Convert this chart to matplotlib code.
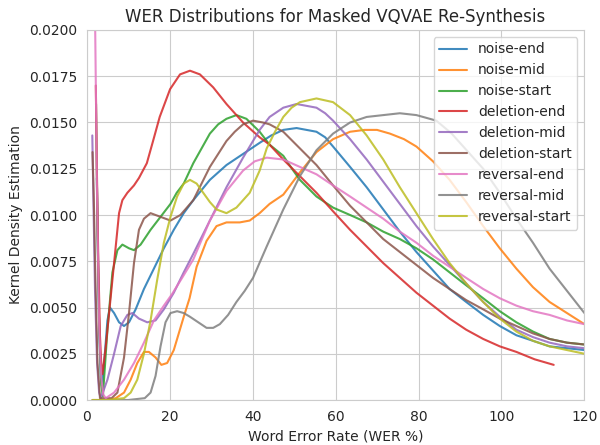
import matplotlib
matplotlib.use("Agg")
import matplotlib.pyplot as plt
import seaborn as sns

sns.set_style("whitegrid")

labels = ['noise-end', 'noise-mid', 'noise-start',
          'deletion-end', 'deletion-mid', 'deletion-start',
          'reversal-end', 'reversal-mid', 'reversal-start']

# kde curves (x = WER %, y = density)
noise_end_x = [2.45, 2.75, 3.0, 3.4, 3.7, 4.2, 5.0, 5.6, 6.6, 7.8, 9.0, 10.2, 11.8, 13.8, 16.2, 18.6, 21.0,
               23.4, 25.7, 29.7, 33.7, 37.7, 41.7, 44.5, 47.4, 50.6, 53.0, 55.4, 57.5, 59.4, 63.5, 67.5,
               71.5, 75.5, 79.5, 83.5, 87.5, 91.5, 95.6, 99.6, 103.6, 107.6, 111.6, 115.8, 120]
noise_end_y = [0.012, 0.0075, 0.004, 0.0012, 0.0008, 0.002, 0.0043, 0.005, 0.0047, 0.0042, 0.004, 0.0042,
               0.0049, 0.006, 0.0071, 0.0082, 0.0092, 0.0101, 0.0108, 0.0119, 0.0127, 0.0133, 0.0139,
               0.0143, 0.0146, 0.0147, 0.0146, 0.0145, 0.0142, 0.0137, 0.0126, 0.0115, 0.0103, 0.0091,
               0.008, 0.007, 0.006, 0.0053, 0.0046, 0.004, 0.0035, 0.0032, 0.0029, 0.0028, 0.0027]

noise_mid_x = [1.4, 3.0, 5.0, 7.0, 9.0, 10.6, 12.2, 13.8, 15.0, 16.6, 18.0, 19.4, 21.0, 23.4, 24.8, 26.5,
               28.9, 31.3, 33.7, 36.9, 39.3, 41.7, 44.1, 47.4, 51.4, 55.4, 59.4, 63.5, 67.0, 70.0, 73.1,
               76.5, 79.5, 83.5, 87.5, 91.5, 95.6, 99.6, 103.6, 107.6, 111.6, 115.8, 120]
noise_mid_y = [0.0, 0.0, 0.0, 0.0001, 0.0004, 0.0011, 0.002, 0.0026, 0.0026, 0.0023, 0.0019, 0.002,
               0.0027, 0.0045, 0.0055, 0.0072, 0.0086, 0.0094, 0.0096, 0.0096, 0.0097, 0.0101, 0.0106,
               0.0111, 0.0123, 0.0134, 0.0141, 0.0145, 0.0146, 0.0146, 0.0144, 0.0141, 0.0137, 0.0129,
               0.0119, 0.0107, 0.0094, 0.0082, 0.0071, 0.0061, 0.0053, 0.0047, 0.0041]

noise_start_x = [2.25, 2.6, 3.0, 3.5, 3.9, 5.0, 6.2, 7.4, 8.6, 10.2, 11.4, 13.0, 15.4, 17.8, 20.2, 21.7, 23.4,
                 25.7, 27.7, 29.7, 31.7, 33.7, 36.1, 38.5, 41.7, 44.1, 47.4, 49.5, 51.4, 55.4, 59.4, 63.5,
                 67.5, 71.5, 75.5, 79.5, 83.5, 87.5, 91.5, 95.6, 99.6, 103.6, 107.6, 111.6, 115.8, 120]
noise_start_y = [0.016, 0.009, 0.004, 0.0008, 0.0002, 0.0038, 0.0069, 0.0081, 0.0084, 0.0082, 0.0081,
                 0.0084, 0.0092, 0.0099, 0.0106, 0.0112, 0.0117, 0.0128, 0.0136, 0.0144, 0.0149, 0.0152,
                 0.0154, 0.0152, 0.0145, 0.0138, 0.0132, 0.0125, 0.0119, 0.011, 0.0104, 0.01, 0.0096,
                 0.0091, 0.0087, 0.0082, 0.0076, 0.0069, 0.0062, 0.0055, 0.0048, 0.0042, 0.0037, 0.0033,
                 0.0031, 0.003]

deletion_end_x = [2.2, 2.45, 2.8, 3.2, 3.5, 3.8, 4.6, 5.8, 7.0, 7.8, 8.6, 9.8, 11.4, 12.6, 14.5, 16.0,
                  17.6, 20.1, 22.5, 24.9, 27.3, 30.5, 33.7, 37.7, 41.7, 44.1, 47.4, 51.4, 55.4, 59.4, 63.5,
                  67.5, 71.5, 75.5, 79.5, 83.5, 87.5, 91.5, 95.6, 99.6, 103.6, 108.0, 112.6]
deletion_end_y = [0.017, 0.0125, 0.0075, 0.0035, 0.002, 0.0014, 0.0029, 0.0056, 0.0083, 0.0101, 0.0108,
                  0.0112, 0.0116, 0.012, 0.0128, 0.014, 0.0153, 0.0168, 0.0176, 0.0178, 0.0176, 0.0169,
                  0.016, 0.015, 0.0142, 0.0138, 0.013, 0.0121, 0.0112, 0.0102, 0.0092, 0.0083, 0.0074,
                  0.0066, 0.0058, 0.0051, 0.0044, 0.0038, 0.0033, 0.0029, 0.0026, 0.0022, 0.0019]

deletion_mid_x = [1.35, 1.6, 2.0, 2.5, 3.0, 3.4, 5.0, 6.6, 8.2, 9.8, 11.0, 12.6, 14.6, 16.6, 18.6, 21.0,
                  23.4, 25.7, 29.7, 33.7, 37.7, 41.7, 44.1, 47.4, 50.6, 53.0, 55.4, 57.5, 59.4, 63.5, 67.5,
                  71.5, 75.5, 79.5, 83.5, 87.5, 91.5, 95.6, 99.6, 103.6, 107.6, 111.6, 115.8, 120]
deletion_mid_y = [0.0143, 0.011, 0.006, 0.002, 0.0004, 0.0001, 0.0011, 0.0025, 0.004, 0.0046, 0.0047,
                  0.0044, 0.0042, 0.0043, 0.0049, 0.0058, 0.0069, 0.0079, 0.0097, 0.0115, 0.0131, 0.0146,
                  0.0153, 0.0158, 0.016, 0.0159, 0.0158, 0.0155, 0.0151, 0.0141, 0.013, 0.0118, 0.0106,
                  0.0094, 0.0083, 0.0073, 0.0063, 0.0053, 0.0045, 0.0038, 0.0034, 0.0031, 0.0029, 0.0028]

deletion_start_x = [1.4, 1.7, 2.1, 2.6, 3.2, 4.5, 6.0, 7.4, 9.0, 10.2, 11.4, 12.6, 13.8, 15.4, 17.8, 20.2,
                    22.6, 25.7, 27.7, 29.7, 31.7, 33.7, 35.7, 37.7, 40.1, 42.5, 44.1, 47.4, 51.4, 55.4,
                    59.4, 63.5, 67.5, 71.5, 75.5, 79.5, 83.5, 87.5, 91.5, 95.6, 99.6, 103.6, 107.6, 111.6,
                    115.8, 120]
deletion_start_y = [0.0134, 0.011, 0.0065, 0.002, 0.0001, 0.0001, 0.0001, 0.0004, 0.0023, 0.0047, 0.0074,
                    0.0092, 0.0098, 0.0101, 0.0099, 0.0097, 0.01, 0.0108, 0.0117, 0.0126, 0.0133, 0.014,
                    0.0145, 0.0149, 0.0151, 0.015, 0.0149, 0.0145, 0.0136, 0.0127, 0.0116, 0.0105, 0.0096,
                    0.0087, 0.008, 0.0073, 0.0066, 0.006, 0.0054, 0.0049, 0.0044, 0.004, 0.0036, 0.0033,
                    0.0031, 0.003]

reversal_end_x = [1.6, 2.0, 2.5, 3.0, 3.5, 4.0, 4.6, 6.6, 9.0, 11.4, 13.8, 16.2, 18.6, 20.5, 23.0, 25.7,
                  29.7, 33.7, 37.7, 40.5, 43.4, 47.4, 51.4, 55.4, 59.4, 63.5, 67.5, 71.5, 75.5, 79.5, 83.5,
                  87.5, 91.5, 95.6, 99.6, 103.6, 107.6, 111.6, 115.8, 120]
reversal_end_y = [0.03, 0.021, 0.011, 0.004, 0.0012, 0.0003, 0.0001, 0.0004, 0.0011, 0.002, 0.0031, 0.0043,
                  0.0051, 0.0057, 0.0066, 0.0076, 0.0097, 0.0113, 0.0124, 0.0129, 0.0131, 0.013, 0.0126,
                  0.0122, 0.0116, 0.011, 0.0104, 0.0098, 0.0091, 0.0085, 0.0078, 0.0072, 0.0066, 0.006,
                  0.0055, 0.0051, 0.0048, 0.0046, 0.0043, 0.0041]

reversal_mid_x = [1.4, 5.0, 10.0, 14.0, 15.4, 16.6, 17.8, 19.0, 20.2, 21.8, 23.4, 24.9, 26.9, 28.9, 30.5,
                  32.1, 34.1, 36.1, 38.1, 40.1, 43.4, 47.4, 51.4, 55.4, 59.4, 63.5, 67.5, 71.5, 75.5, 79.5,
                  84.3, 88.0, 91.6, 95.6, 99.6, 103.6, 107.6, 111.6, 115.8, 120]
reversal_mid_y = [0.0, 0.0, 0.0, 0.0001, 0.0004, 0.0013, 0.0029, 0.0042, 0.0047, 0.0048, 0.0047, 0.0045,
                  0.0042, 0.0039, 0.0039, 0.0041, 0.0046, 0.0053, 0.0059, 0.0066, 0.0083, 0.0103, 0.0121,
                  0.0135, 0.0144, 0.015, 0.0153, 0.0154, 0.0155, 0.0154, 0.0151, 0.0144, 0.0135, 0.0125,
                  0.0112, 0.0098, 0.0085, 0.0071, 0.0059, 0.0047]

reversal_start_x = [1.4, 5.0, 9.0, 10.6, 12.2, 13.8, 15.4, 17.0, 18.6, 20.2, 21.8, 23.4, 24.9, 26.5, 28.1,
                    29.7, 31.3, 33.7, 36.1, 39.3, 41.7, 43.4, 45.4, 47.4, 49.4, 51.4, 55.4, 59.4, 63.5,
                    67.5, 71.5, 75.5, 79.5, 83.5, 87.5, 91.5, 95.6, 99.6, 103.6, 107.6, 111.6, 115.8, 120]
reversal_start_y = [0.0, 0.0, 0.0001, 0.0004, 0.0011, 0.0025, 0.0043, 0.0065, 0.0085, 0.0099, 0.011,
                    0.0117, 0.0119, 0.0117, 0.0112, 0.0107, 0.0103, 0.0101, 0.0104, 0.0112, 0.0124, 0.0136,
                    0.0145, 0.0153, 0.0158, 0.0161, 0.0163, 0.0161, 0.0154, 0.0143, 0.013, 0.0115, 0.0101,
                    0.0087, 0.0074, 0.0063, 0.0053, 0.0044, 0.0037, 0.0032, 0.0029, 0.0027, 0.0025]

curves = [(noise_end_x, noise_end_y), (noise_mid_x, noise_mid_y), (noise_start_x, noise_start_y),
          (deletion_end_x, deletion_end_y), (deletion_mid_x, deletion_mid_y),
          (deletion_start_x, deletion_start_y), (reversal_end_x, reversal_end_y),
          (reversal_mid_x, reversal_mid_y), (reversal_start_x, reversal_start_y)]

colors = plt.get_cmap('tab10').colors

fig = plt.figure(figsize=(6, 4.45), dpi=100)
ax = fig.add_axes([0.1445, 0.1011, 0.8295, 0.8315])

for i, (xs, ys) in enumerate(curves):
    ax.plot(xs, ys, color=colors[i], lw=1.5, alpha=0.85, label=labels[i],
            solid_joinstyle='round')

ax.set_xlim(0, 120)
ax.set_ylim(0, 0.02)
ax.set_xticks([0, 20, 40, 60, 80, 100, 120])
ax.set_yticks([0.0, 0.0025, 0.005, 0.0075, 0.01, 0.0125, 0.015, 0.0175, 0.02])
ax.yaxis.set_major_formatter(matplotlib.ticker.FormatStrFormatter('%.4f'))
ax.tick_params(labelsize=10, colors='#262626')
ax.set_title("WER Distributions for Masked VQVAE Re-Synthesis", fontsize=12, color='#262626')
ax.set_xlabel("Word Error Rate (WER %)", fontsize=10, color='#262626')
ax.set_ylabel("Kernel Density Estimation", fontsize=10, color='#262626')
ax.legend(loc='upper right', fontsize=10)

plt.savefig('out.png', dpi=100)
